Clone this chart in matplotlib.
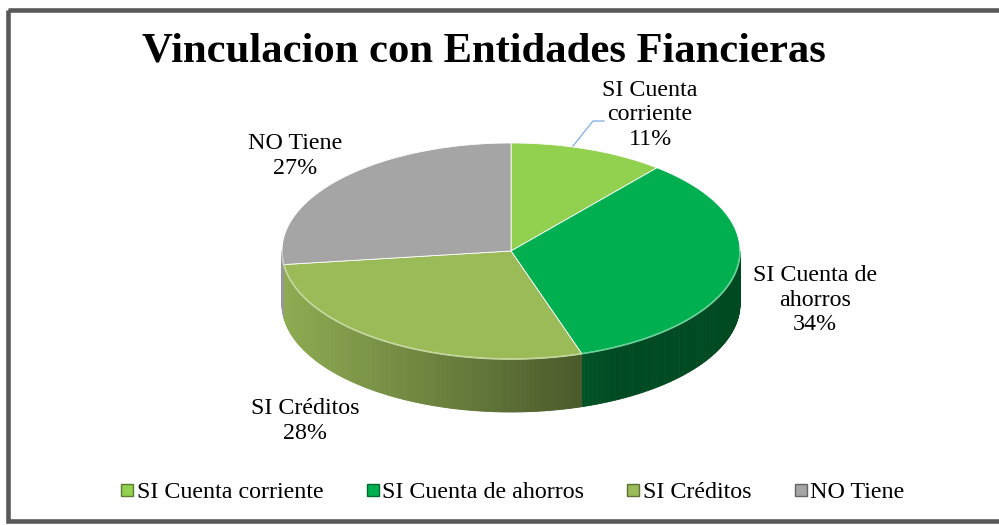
import numpy as np
import matplotlib.pyplot as plt
from matplotlib.patches import Polygon, Rectangle
from matplotlib.lines import Line2D
from matplotlib.colors import to_rgb

# datos del grafico
categorias = ['SI Cuenta corriente', 'SI Cuenta de ahorros', 'SI Créditos', 'NO Tiene']
valores = [11, 34, 28, 27]
colores = ['#92d050', '#00b050', '#9bbb59', '#a5a5a5']
etiquetas = ['SI Cuenta\ncorriente', 'SI Cuenta de\nahorros', 'SI Créditos', 'NO Tiene']
titulo = 'Vinculacion con Entidades Fiancieras'

plt.rcParams['font.family'] = ['Liberation Serif', 'DejaVu Serif']

fig = plt.figure(figsize=(9.99, 5.25), dpi=100)
ax = fig.add_axes([0, 0, 1, 1])
ax.set_xlim(0, 999)
ax.set_ylim(525, 0)
ax.axis('off')

# marco
ax.add_patch(Rectangle((8, 10), 1000, 511, fill=False, edgecolor='#595959', lw=3.3))

ax.text(484, 52, titulo, ha='center', va='center', fontsize=30.7, fontweight='bold')

# geometria del pastel 3D (elipse + pared lateral)
cx, cy, rx, ry, prof = 511, 251, 229, 108, 53

fracs = np.array(valores) / sum(valores)
limites = 90 - 360 * np.concatenate([[0], np.cumsum(fracs)])


def punto(a):
    a = np.radians(a)
    return cx + rx * np.cos(a), cy - ry * np.sin(a)


def sombra(col, x):
    t = (x - (cx - rx)) / (2 * rx)
    f = max(0.42, 0.92 - 0.68 * t)
    return tuple(np.array(to_rgb(col)) * f)


# paredes laterales (solo la mitad delantera)
for i, col in enumerate(colores):
    angs = np.linspace(limites[i], limites[i + 1], 200)
    for a1, a2 in zip(angs[:-1], angs[1:]):
        am = (a1 + a2) / 2
        if np.sin(np.radians(am)) >= 0:
            continue
        x1, y1 = punto(a1)
        x2, y2 = punto(a2)
        c = sombra(col, (x1 + x2) / 2)
        ax.add_patch(Polygon([(x1, y1), (x2, y2), (x2, y2 + prof), (x1, y1 + prof)],
                             closed=True, facecolor=c, edgecolor=c, lw=0.6))

# caras superiores
for i, col in enumerate(colores):
    angs = np.linspace(limites[i], limites[i + 1], 200)
    pts = [(cx, cy)] + [punto(a) for a in angs]
    ax.add_patch(Polygon(pts, closed=True, facecolor=col, edgecolor='white', lw=0.6))

# borde iluminado delantero
for i, col in enumerate(colores):
    angs = np.linspace(limites[i], limites[i + 1], 200)
    angs = angs[np.sin(np.radians(angs)) < 0]
    if len(angs) < 2:
        continue
    xs, ys = zip(*[punto(a) for a in angs])
    claro = tuple(np.array(to_rgb(col)) * 0.6 + 0.4)
    ax.plot(xs, ys, color=claro, lw=1.2, solid_capstyle='butt')

# etiquetas de datos
pos_etq = [(650, 115), (815, 300), (305, 421), (295, 156)]
for (x, y), etq, v in zip(pos_etq, etiquetas, valores):
    ax.text(x, y, f'{etq}\n{v}%', ha='center', va='center', fontsize=17.3, linespacing=1.22)

ax.plot([573, 593, 604], [146, 121, 121], color='#8db3e2', lw=1)

# leyenda
handles = [Line2D([], [], marker='s', ls='none', markersize=9, markerfacecolor=c,
                  markeredgecolor=tuple(np.array(to_rgb(c)) * 0.6)) for c in colores]
fig.legend(handles, categorias, loc='center', bbox_to_anchor=(0.513, 1 - 492 / 525), ncol=4,
           frameon=False, fontsize=17.3, handlelength=0.55, handletextpad=0.12,
           columnspacing=1.78, borderaxespad=0)

fig.savefig('out.png', dpi=100)
